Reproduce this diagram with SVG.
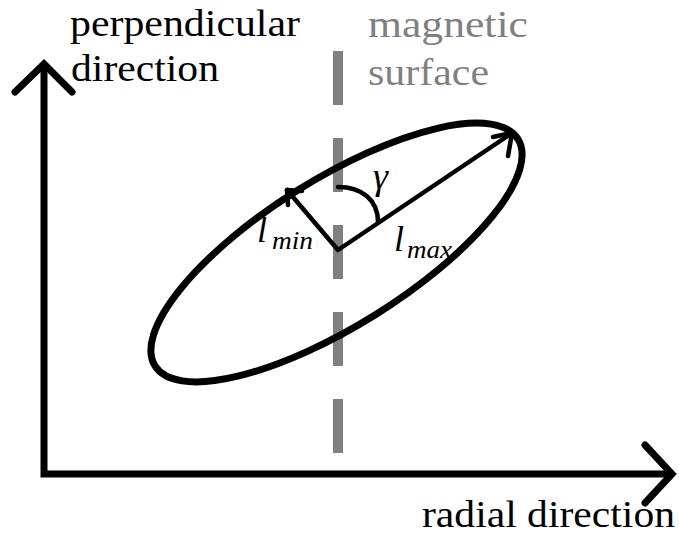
<svg xmlns="http://www.w3.org/2000/svg" width="679" height="539" viewBox="0 0 679 539">
<style>
text{font-family:"Liberation Serif","DejaVu Serif","Times New Roman",serif}
.lbl{font-size:38px;fill:#000}
.gray{fill:#808080}
.it{font-style:italic;fill:#000}
.axis{fill:none;stroke:#000;stroke-width:7;stroke-linecap:round;stroke-linejoin:miter}
.vec{fill:none;stroke:#000;stroke-width:4.5;stroke-linecap:round;stroke-linejoin:round}
</style>
<rect width="679" height="539" fill="#fff"/>
<g id="magnetic-surface">
<line x1="338" y1="51" x2="338" y2="453" stroke="#808080" stroke-width="10" stroke-dasharray="54 33"/>
<text class="lbl gray" x="368" y="37" textLength="160" lengthAdjust="spacingAndGlyphs">magnetic</text>
<text class="lbl gray" x="368" y="85" textLength="121" lengthAdjust="spacingAndGlyphs">surface</text>
</g>
<g id="axes">
<polyline class="axis" points="44,66 44,474 671,474"/>
<polyline class="axis" points="15,92 44,64 72,92"/>
<polyline class="axis" points="645,445 672,474 645,503"/>
<text class="lbl" x="70" y="36" textLength="230" lengthAdjust="spacingAndGlyphs">perpendicular</text>
<text class="lbl" x="71" y="81" textLength="148" lengthAdjust="spacingAndGlyphs">direction</text>
<text class="lbl" x="422" y="527" textLength="253" lengthAdjust="spacingAndGlyphs">radial direction</text>
</g>
<g id="ellipse">
<ellipse cx="336.5" cy="252.5" rx="214" ry="73.4" transform="rotate(-32 336.5 252.5)" fill="none" stroke="#000" stroke-width="7"/>
</g>
<g id="connectors">
<polyline class="vec" points="287,190 338,250 512,133"/>
<polyline class="vec" points="493,137 512,133 508,156"/>
<polyline class="vec" points="302,191 287,190 288,205"/>
<path class="vec" d="M338,187 C362,187 378,200 378,222"/>
</g>
<g id="labels">
<text class="it" x="373" y="189" font-size="38">γ</text>
<text class="it" x="257" y="242" font-size="36">l</text>
<text class="it" x="272" y="249" font-size="26" textLength="41" lengthAdjust="spacingAndGlyphs">min</text>
<text class="it" x="394" y="251" font-size="36">l</text>
<text class="it" x="407" y="258" font-size="26" textLength="45" lengthAdjust="spacingAndGlyphs">max</text>
</g>
</svg>
